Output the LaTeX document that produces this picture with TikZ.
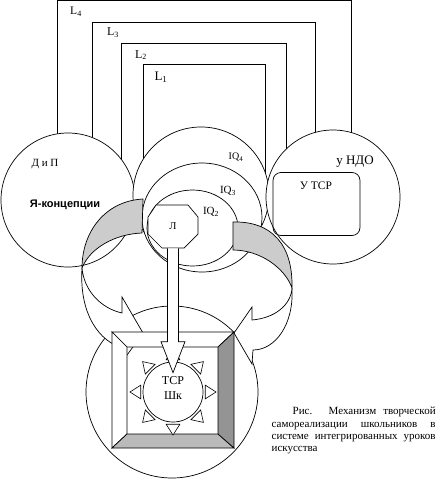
\documentclass[tikz,border=0pt]{standalone}
\usepackage{fontspec}
\setmainfont{Liberation Serif}
\newfontfamily\sansbold{Liberation Sans}
\usetikzlibrary{shapes,calc}

\begin{document}
\begin{tikzpicture}[x=1pt,y=-1pt,line width=.7pt]
			\tikzstyle{frame}=[draw,line width=.8pt]
			\tikzstyle{ring}=[circle,draw,fill=white,inner sep=0,minimum size=134pt]
			\tikzstyle{oval}=[ellipse,draw,fill=white,inner sep=0]
			\tikzstyle{txt}=[inner sep=0,font=\fontsize{11}{13}\selectfont]
			\tikzstyle{back}=[draw,fill=black!20]
			\tikzstyle{front}=[draw,fill=white]
			\tikzstyle{ray}=[draw,fill=white,line width=.6pt]
			\tikzstyle{caption}=[anchor=north east,inner sep=0,text width=164pt,align=justify,font=\fontsize{11}{12.2}\selectfont]
			
			\useasboundingbox (0,0) rectangle (436,479);
			
			\draw [frame] (57,195) |- (351,0.5) -- (351,195);
			\draw [frame] (92,195) |- (315,22) -- (315,195);
			\draw [frame] (121,195) |- (286,43) -- (286,195);
			\draw [frame] (143,195) |- (265,64) -- (265,195);
			\node [txt,font=\fontsize{11.5}{13}\selectfont] (l4) at (76,12) {L\textsubscript{4}};
			\node [txt,font=\fontsize{12}{13}\selectfont] (l3) at (113,33) {L\textsubscript{3}};
			\node [txt,font=\fontsize{12}{13}\selectfont] (l2) at (141,55) {L\textsubscript{2}};
			\node [txt,font=\fontsize{13}{14}\selectfont] (l1) at (161,77) {L\textsubscript{1}};
			
			\node [ring,minimum size=172pt] (bot) at (172,392) {};
			\node [ring] (dip) at (68,200) {};
			\node [ring,minimum size=136pt] (iq4) at (201,195) {};
			\node [ring] (ndo) at (333,197) {};
			\node [oval,minimum width=120pt,minimum height=109pt] (iq3) at (202,217.5) {};
			\node [oval,minimum width=91pt,minimum height=76pt] (iq2) at (192.5,228) {};
			\node [draw,rounded corners=8pt,inner sep=0,minimum width=87pt,minimum height=63pt] (utsr) at (316.5,204) {};
			
			\node [txt] (dipl) at (45,164) {Д и П};
			\node [txt,font=\sansbold\bfseries\fontsize{11}{13}\selectfont] (ya) at (65,205) {Я-концепции};
			\node [txt,font=\fontsize{10}{12}\selectfont] (iq4l) at (236,157) {IQ\textsubscript{4}};
			\node [txt] (iq3l) at (228,191) {IQ\textsubscript{3}};
			\node [txt] (iq2l) at (211,212) {IQ\textsubscript{2}};
			\node [txt,font=\fontsize{13}{14}\selectfont] (ndol) at (355,162) {у НДО};
			\node [txt,font=\fontsize{11.5}{13}\selectfont] (utsrl) at (316,186) {У ТСР};
			
			\draw [front] (156,205) -- (188,205) -- (198,217) -- (198,234) -- (184,248) -- (162,248) -- (148,234) -- (148,217) -- cycle;
			\node [txt,minimum width=50pt,minimum height=43pt,font=\fontsize{10.5}{12}\selectfont] (lich) at (173,226.5) {Л};
			
			\draw [back] (143,199) .. controls (105,201) and (82,232) .. (82,268) .. controls (90,248) and (115,234) .. (142,233) -- cycle;
			\draw [front] (82,268) .. controls (84,290) and (100,308) .. (122,313) -- (122,297) -- (143,333) -- (122,362) -- (123,348) .. controls (100,342) and (79,315) .. (82,268) -- cycle;
			\draw [back] (233,222) .. controls (272,221) and (293,245) .. (292,288) .. controls (285,268) and (260,250) .. (233,250) -- cycle;
			\draw [front] (292,288) .. controls (291,305) and (275,318) .. (252,320) -- (252,307) -- (234,333) -- (252,364) -- (253,350) .. controls (275,350) and (294,325) .. (292,288) -- cycle;
			
			\coordinate (bnw) at (112,332);
			\coordinate (bne) at (234,332);
			\coordinate (bse) at (234,448);
			\coordinate (bsw) at (112,448);
			\coordinate (inw) at (127,347);
			\coordinate (ine) at (218,347);
			\coordinate (ise) at (218,434);
			\coordinate (isw) at (127,434);
			\draw [front] (bnw) -- (bne) -- (ine) -- (inw) -- cycle;
			\draw [front] (bnw) -- (inw) -- (isw) -- (bsw) -- cycle;
			\draw [draw,fill=black!27] (bsw) -- (bse) -- (ise) -- (isw) -- cycle;
			\draw [draw,fill=black!42] (bne) -- (bse) -- (ise) -- (ine) -- cycle;
			
			\node [ring,minimum size=60pt] (tsr) at (173,392) {};
			\foreach \a in {0,45,...,315}
				\draw [ray] ($(tsr.center)+(\a:43)$) -- ($(tsr.center)+(\a+12:33)$) -- ($(tsr.center)+(\a-12:33)$) -- cycle;
			\node [txt,align=center,font=\fontsize{12}{14.5}\selectfont] (tsrl) at (173,388) {ТСР\\Шк};
			
			\draw [front] ($(lich.south)+(-5.5,0)$) |- ($(tsr.north)+(-12,-20)$) -- ($(tsr.north)+(0,11)$) -- ($(tsr.north)+(12,-20)$) -| ($(lich.south)+(5.5,0)$);
			
			\node [caption] (cap) at (436,407) {\hspace*{21pt}Рис. Механизм творческой\linebreak самореализации школьников в\linebreak системе интегрированных уроков\linebreak искусства};
\end{tikzpicture}
\end{document}
